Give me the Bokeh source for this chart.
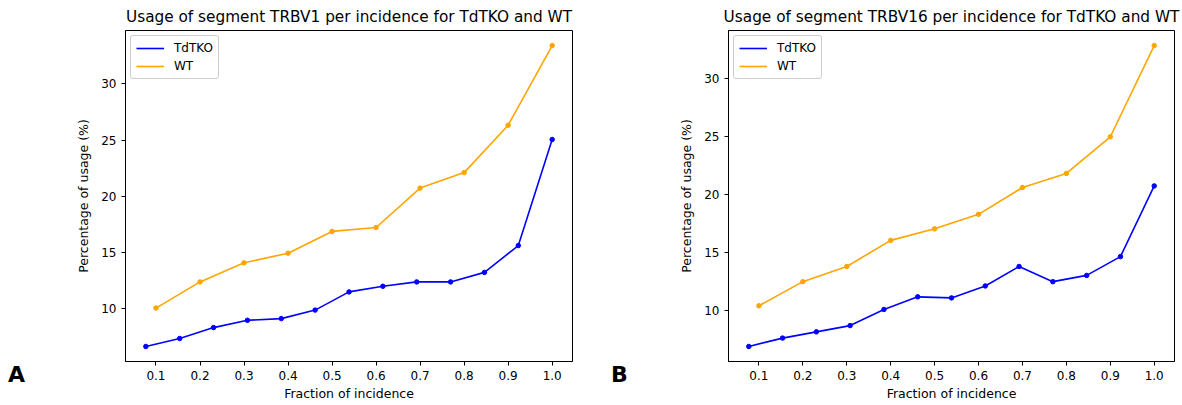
from bokeh.plotting import figure
from bokeh.layouts import row
from bokeh.models import FixedTicker, Legend, LegendItem, Range1d, Div
from bokeh.embed import file_html
from bokeh.resources import INLINE

# ---- data ----
x_tdtko = [1/13, 2/13, 3/13, 4/13, 5/13, 6/13, 7/13, 8/13, 9/13, 10/13, 11/13, 12/13, 1.0]
x_wt = [0.1, 0.2, 0.3, 0.4, 0.5, 0.6, 0.7, 0.8, 0.9, 1.0]

trbv1_tdtko = [6.61, 7.32, 8.29, 8.94, 9.09, 9.85, 11.47, 11.97, 12.36, 12.36, 13.21, 15.60, 25.05]
trbv1_wt = [10.03, 12.36, 14.06, 14.92, 16.86, 17.21, 20.72, 22.10, 26.32, 33.42]

trbv16_tdtko = [6.92, 7.64, 8.18, 8.72, 10.11, 11.20, 11.11, 12.14, 13.82, 12.51, 13.05, 14.67, 20.77]
trbv16_wt = [10.43, 12.51, 13.82, 16.07, 17.07, 18.32, 20.63, 21.85, 25.01, 32.88]

x_ticks = [0.1, 0.2, 0.3, 0.4, 0.5, 0.6, 0.7, 0.8, 0.9, 1.0]
y_ticks = [10, 15, 20, 25, 30]
panel_letters = ["A", "B"]

FONT = "DejaVu Sans"
BLUE = "#0000ff"
ORANGE = "#ffa500"


def make_panel(segment, tdtko, wt, width, left, right):
    ymin = min(tdtko + wt)
    ymax = max(tdtko + wt)
    yr = ymax - ymin
    xmin, xmax = min(x_tdtko), 1.0
    xr = xmax - xmin
    p = figure(width=width, height=405, output_backend="svg", toolbar_location=None,
               x_range=Range1d(xmin - 0.05 * xr, xmax + 0.05 * xr),
               y_range=Range1d(ymin - 0.05 * yr, ymax + 0.05 * yr),
               min_border_left=left, min_border_right=right,
               min_border_top=27, min_border_bottom=44,
               title=f"Usage of segment {segment} per incidence for TdTKO and WT")
    p.title.align = "center"
    p.title.text_font = FONT
    p.title.text_font_size = "15.3px"
    p.title.text_font_style = "normal"
    p.title.text_color = "#000000"
    p.grid.visible = False
    p.outline_line_color = "#000000"
    p.outline_line_width = 1
    p.outline_line_alpha = 1

    for ax in (p.xaxis[0], p.yaxis[0]):
        ax.major_label_text_font = FONT
        ax.major_label_text_font_size = "12px"
        ax.major_label_text_color = "#000000"
        ax.axis_label_text_font = FONT
        ax.axis_label_text_font_size = "12.5px"
        ax.axis_label_text_font_style = "normal"
        ax.axis_label_text_color = "#000000"
        ax.minor_tick_line_color = None
        ax.major_tick_out = 4
        ax.major_tick_in = 0
        ax.axis_line_color = "#000000"
        ax.major_tick_line_color = "#000000"
    p.xaxis.ticker = FixedTicker(ticks=x_ticks)
    p.yaxis.ticker = FixedTicker(ticks=y_ticks)
    p.xaxis.major_label_overrides = {t: f"{t:.1f}" for t in x_ticks}
    p.xaxis.axis_label = "Fraction of incidence"
    p.yaxis.axis_label = "Percentage of usage (%)"
    p.xaxis.axis_label_standoff = 3
    p.yaxis.axis_label_standoff = 7

    l1 = p.line(x_tdtko, tdtko, line_color=BLUE, line_width=1.6)
    p.scatter(x_tdtko, tdtko, size=4.5, color=BLUE)
    l2 = p.line(x_wt, wt, line_color=ORANGE, line_width=1.6)
    p.scatter(x_wt, wt, size=4.5, color=ORANGE)

    leg = Legend(items=[LegendItem(label="TdTKO", renderers=[l1]),
                        LegendItem(label="WT", renderers=[l2])],
                 location="top_left")
    leg.label_text_font = FONT
    leg.label_text_font_size = "12px"
    leg.label_text_color = "#000000"
    leg.glyph_width = 28
    leg.glyph_height = 14
    leg.label_standoff = 10
    leg.spacing = 4
    leg.padding = 5
    leg.margin = 5
    leg.border_line_color = "#cccccc"
    leg.border_line_alpha = 1
    leg.border_radius = 3
    leg.background_fill_alpha = 0.8
    p.add_layout(leg)
    return p


pA = make_panel("TRBV1", trbv1_tdtko, trbv1_wt, 600, 125, 28)
pB = make_panel("TRBV16", trbv16_tdtko, trbv16_wt, 582, 128, 8)


def letter_div(letter, left):
    return Div(text=letter, width=26, height=28,
               styles={"position": "absolute", "left": f"{left}px", "top": "362px",
                       "font-family": FONT, "font-size": "22px", "font-weight": "bold",
                       "color": "#000000", "line-height": "26px", "margin": "0"})


layout = row(pA, pB, letter_div(panel_letters[0], 8), letter_div(panel_letters[1], 611),
             styles={"position": "relative"})
open("out.html", "w").write(file_html(layout, INLINE))
